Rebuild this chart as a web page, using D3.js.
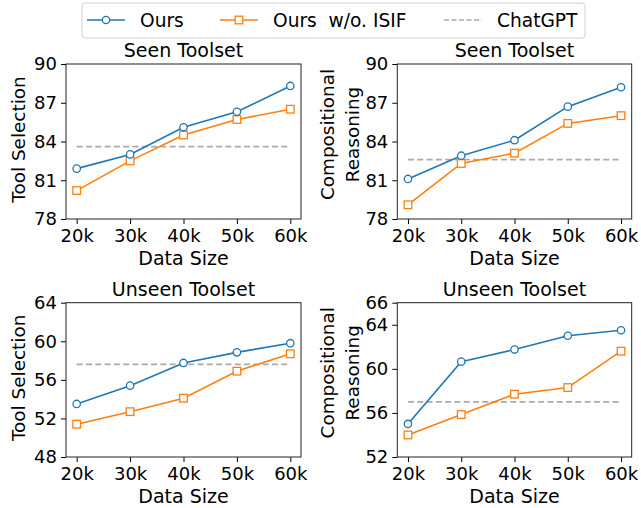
<!DOCTYPE html>
<html>
<head>
<meta charset="utf-8">
<script src="https://cdn.jsdelivr.net/npm/d3@7"></script>
<style>
  body { margin: 0; background: #fff; }
  svg { font-family: "DejaVu Sans", sans-serif; }
</style>
</head>
<body>
<div id="chart"></div>
<script>
// data
const sizes = ["20k", "30k", "40k", "50k", "60k"];
const sizeValues = [20, 30, 40, 50, 60];

const seenToolOurs = [81.9, 83.0, 85.1, 86.3, 88.3];
const seenToolNoIsif = [80.2, 82.5, 84.5, 85.7, 86.5];
const seenToolChatGPT = 83.6;

const seenCompOurs = [81.1, 82.9, 84.1, 86.7, 88.2];
const seenCompNoIsif = [79.1, 82.3, 83.1, 85.4, 86.0];
const seenCompChatGPT = 82.6;

const unseenToolOurs = [53.5, 55.4, 57.75, 58.85, 59.8];
const unseenToolNoIsif = [51.4, 52.7, 54.1, 56.9, 58.7];
const unseenToolChatGPT = 57.6;

const unseenCompOurs = [55.0, 60.65, 61.75, 63.0, 63.5];
const unseenCompNoIsif = [54.0, 55.85, 57.7, 58.3, 61.6];
const unseenCompChatGPT = 57.0;

const seenTicks = [78, 81, 84, 87, 90];
const unseenToolTicks = [48, 52, 56, 60, 64];
const unseenCompTicks = [52, 56, 60, 64, 66];

const legendLabels = ["Ours", "Ours  w/o. ISIF", "ChatGPT"];

const blue = "#1f77b4", orange = "#ff7f0e", gray = "#aaaaaa";
const W = 641, H = 508;

const panels = [
  { title: "Seen Toolset", ylabel: ["Tool Selection"], ours: seenToolOurs, noisif: seenToolNoIsif, gpt: seenToolChatGPT,
    ticks: seenTicks, domain: [78, 90], x0: 66, x1: 301, y0: 64, y1: 219 },
  { title: "Seen Toolset", ylabel: ["Compositional", "Reasoning"], ours: seenCompOurs, noisif: seenCompNoIsif, gpt: seenCompChatGPT,
    ticks: seenTicks, domain: [78, 90], x0: 397.3, x1: 631.7, y0: 64, y1: 219 },
  { title: "Unseen Toolset", ylabel: ["Tool Selection"], ours: unseenToolOurs, noisif: unseenToolNoIsif, gpt: unseenToolChatGPT,
    ticks: unseenToolTicks, domain: [48, 64], x0: 66, x1: 301, y0: 302.7, y1: 457 },
  { title: "Unseen Toolset", ylabel: ["Compositional", "Reasoning"], ours: unseenCompOurs, noisif: unseenCompNoIsif, gpt: unseenCompChatGPT,
    ticks: unseenCompTicks, domain: [52, 66], x0: 397.3, x1: 631.7, y0: 302.7, y1: 457 }
];

const svg = d3.select("#chart").append("svg")
  .attr("width", W).attr("height", H);

const tickFs = 18, titleFs = 19, labelFs = 19, ylabFs = 18.4, legendFs = 18.6;

panels.forEach(p => {
  const x = d3.scaleLinear().domain([18, 62]).range([p.x0, p.x1]);
  const y = d3.scaleLinear().domain(p.domain).range([p.y1, p.y0]);
  const g = svg.append("g");

  // axes
  g.append("g").attr("transform", `translate(0,${p.y1})`)
    .call(d3.axisBottom(x).tickValues(sizeValues).tickFormat((d, i) => sizes[i]).tickSizeOuter(0).tickSize(5).tickPadding(5.5))
    .call(a => a.selectAll("text").attr("font-size", tickFs).attr("font-family", "DejaVu Sans").attr("fill", "#000"));
  g.append("g").attr("transform", `translate(${p.x0},0)`)
    .call(d3.axisLeft(y).tickValues(p.ticks).tickSizeOuter(0).tickSize(5).tickPadding(4))
    .call(a => a.selectAll("text").attr("font-size", tickFs).attr("font-family", "DejaVu Sans").attr("fill", "#000"));
  svg.selectAll(".domain").remove();
  g.selectAll(".tick line").attr("stroke", "#000").attr("stroke-width", 1);

  // box
  g.append("rect").attr("x", p.x0).attr("y", p.y0)
    .attr("width", p.x1 - p.x0).attr("height", p.y1 - p.y0)
    .attr("fill", "none").attr("stroke", "#222").attr("stroke-width", 1);

  // ChatGPT reference
  g.append("line")
    .attr("x1", x(20)).attr("x2", x(60))
    .attr("y1", y(p.gpt)).attr("y2", y(p.gpt))
    .attr("stroke", gray).attr("stroke-width", 1.8).attr("stroke-dasharray", "6,3.3");

  const line = d3.line().x((d, i) => x(sizeValues[i])).y(d => y(d));

  g.append("path").datum(p.noisif).attr("d", line)
    .attr("fill", "none").attr("stroke", orange).attr("stroke-width", 1.6);
  g.selectAll(".sq").data(p.noisif).join("rect")
    .attr("x", (d, i) => x(sizeValues[i]) - 3.8).attr("y", d => y(d) - 3.8)
    .attr("width", 7.6).attr("height", 7.6)
    .attr("fill", "#fff").attr("stroke", orange).attr("stroke-width", 1.3);

  g.append("path").datum(p.ours).attr("d", line)
    .attr("fill", "none").attr("stroke", blue).attr("stroke-width", 1.6);
  g.selectAll(".ci").data(p.ours).join("circle")
    .attr("cx", (d, i) => x(sizeValues[i])).attr("cy", d => y(d)).attr("r", 3.7)
    .attr("fill", "#fff").attr("stroke", blue).attr("stroke-width", 1.3);

  // title
  g.append("text").attr("x", (p.x0 + p.x1) / 2).attr("y", p.y0 - 7)
    .attr("text-anchor", "middle").attr("font-size", titleFs).text(p.title);

  // x label
  g.append("text").attr("x", (p.x0 + p.x1) / 2).attr("y", p.y1 + 46)
    .attr("text-anchor", "middle").attr("font-size", labelFs).text("Data Size");

  // y label
  const two = p.ylabel.length > 1;
  const cy = (p.y0 + p.y1) / 2 - (two ? 7 : 2);
  const lx = two ? p.x0 - 63.5 : p.x0 - 41;
  p.ylabel.forEach((t, k) => {
    g.append("text")
      .attr("transform", `translate(${lx + k * 25},${cy}) rotate(-90)`)
      .attr("text-anchor", "middle").attr("font-size", ylabFs).text(t);
  });
});

// legend
const lg = svg.append("g");
lg.append("rect").attr("x", 82).attr("y", 3).attr("width", 503).attr("height", 35)
  .attr("rx", 3).attr("fill", "#fff").attr("stroke", "#d0d0d0").attr("stroke-width", 1);
const legendX = [87, 220, 444];
const legendColors = [blue, orange, gray];
legendLabels.forEach((lab, i) => {
  const lx = legendX[i], ly = 20;
  const ln = lg.append("line").attr("x1", lx).attr("x2", lx + 38).attr("y1", ly).attr("y2", ly)
    .attr("stroke", legendColors[i]).attr("stroke-width", i === 2 ? 1.5 : 1.6);
  if (i === 2) ln.attr("stroke-dasharray", "5,2.5");
  if (i === 0) lg.append("circle").attr("cx", lx + 19).attr("cy", ly).attr("r", 3.7)
    .attr("fill", "#fff").attr("stroke", blue).attr("stroke-width", 1.3);
  if (i === 1) lg.append("rect").attr("x", lx + 19 - 3.8).attr("y", ly - 3.8).attr("width", 7.6).attr("height", 7.6)
    .attr("fill", "#fff").attr("stroke", orange).attr("stroke-width", 1.3);
  lg.append("text").attr("x", lx + 53).attr("y", ly + 6.8).attr("font-size", legendFs)
    .attr("xml:space", "preserve").style("white-space", "pre").text(lab);
});
</script>
</body>
</html>
